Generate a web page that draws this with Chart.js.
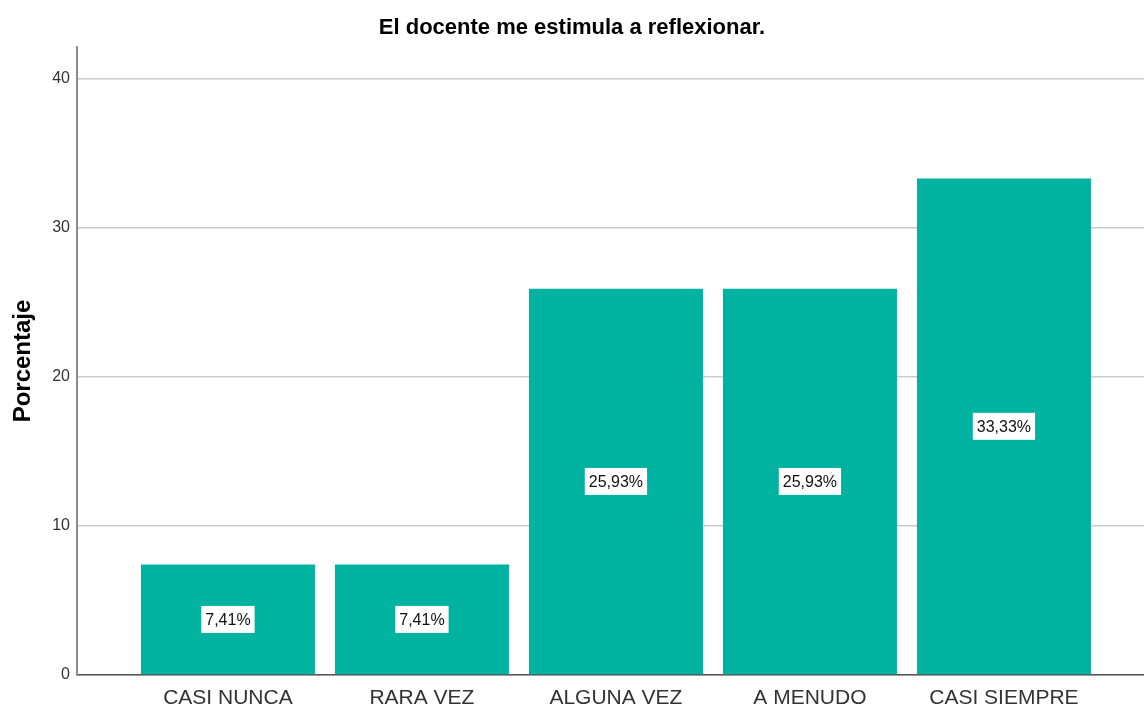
<!DOCTYPE html>
<html>
<head>
<meta charset="utf-8">
<script src="https://cdn.jsdelivr.net/npm/chart.js@4/dist/chart.umd.min.js"></script>
<style>
  html, body { margin: 0; padding: 0; background: #fff; }
  #wrap { width: 1144px; height: 711px; }
</style>
</head>
<body>
<div id="wrap"><canvas id="chart"></canvas></div>
<script>
/* Bar chart: El docente me estimula a reflexionar. */

const TITLE = 'El docente me estimula a reflexionar.';
const Y_TITLE = 'Porcentaje';
const CATEGORIES = ['CASI NUNCA', 'RARA VEZ', 'ALGUNA VEZ', 'A MENUDO', 'CASI SIEMPRE'];
const PERCENTS = [7.41, 7.41, 25.93, 25.93, 33.33];

const FONT = "'Liberation Sans', Arial, sans-serif";
const BAR_COLOR = '#00b3a1';

const fmtPct = v => v.toFixed(2).replace('.', ',') + '%';

// white boxed value labels in the middle of each bar
const boxLabels = {
  id: 'boxLabels',
  afterDatasetsDraw(chart) {
    const { ctx } = chart;
    const meta = chart.getDatasetMeta(0);
    ctx.save();
    ctx.font = `16px ${FONT}`;
    ctx.textAlign = 'center';
    ctx.textBaseline = 'middle';
    meta.data.forEach((bar, i) => {
      const text = fmtPct(PERCENTS[i]);
      const cx = bar.x;
      const cy = (bar.y + bar.base) / 2;
      const w = ctx.measureText(text).width + 8;
      const h = 27;
      ctx.fillStyle = '#fff';
      ctx.fillRect(cx - w / 2, cy - h / 2, w, h);
      ctx.fillStyle = '#111';
      ctx.fillText(text, cx, cy + 1);
    });
    ctx.restore();
  },
};

new Chart(document.getElementById('chart'), {
  type: 'bar',
  data: {
    datasets: [{
      data: PERCENTS.map((v, i) => ({ x: i, y: v })),
      backgroundColor: BAR_COLOR,
      borderWidth: 0,
      categoryPercentage: 1,
      barPercentage: 0.897,
    }],
  },
  options: {
    responsive: true,
    maintainAspectRatio: false,
    animation: false,
    layout: { padding: 0 },
    plugins: {
      legend: { display: false },
      tooltip: { enabled: false },
      title: {
        display: true,
        text: TITLE,
        color: '#000',
        font: { family: FONT, size: 22, weight: 'bold' },
        padding: { top: 15, bottom: 5.6 },
      },
    },
    scales: {
      x: {
        type: 'linear',
        offset: false,
        min: -0.778,
        max: 4.722,
        afterBuildTicks: s => { s.ticks = CATEGORIES.map((_, i) => ({ value: i })); },
        afterFit: s => { s.height = 36; },
        grid: { display: false, drawTicks: false, offset: false },
        border: { display: true, color: '#555', width: 1.5 },
        ticks: {
          padding: 11,
          color: '#333',
          font: { family: FONT, size: 21 },
          maxRotation: 0,
          autoSkip: false,
          callback: v => CATEGORIES[v] ?? '',
        },
      },
      y: {
        min: 0,
        max: 42.15,
        afterFit: s => { s.width = 77; },
        grid: { color: '#cccccc', lineWidth: 1.5, drawTicks: false },
        border: { display: true, color: '#8c8c8c', width: 2 },
        ticks: {
          stepSize: 10,
          includeBounds: false,
          padding: 7,
          color: '#333',
          font: { family: FONT, size: 16 },
        },
        title: {
          display: true,
          text: Y_TITLE,
          color: '#000',
          font: { family: FONT, size: 24, weight: 'bold' },
          padding: { top: 9, bottom: 0 },
        },
      },
    },
  },
  plugins: [boxLabels],
});
</script>
</body>
</html>
